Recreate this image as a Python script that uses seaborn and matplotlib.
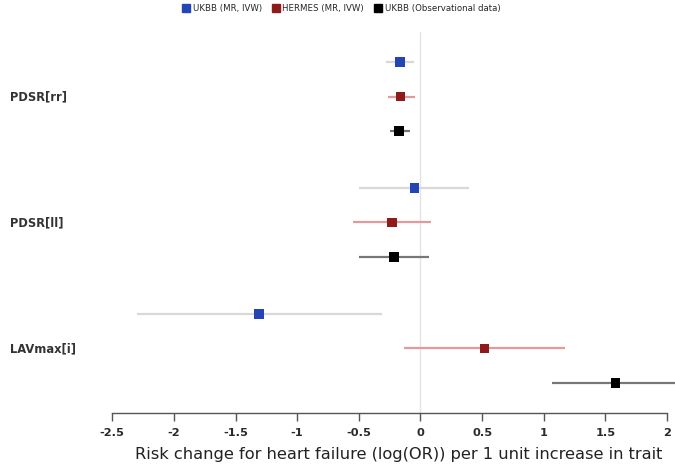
import matplotlib
matplotlib.use("Agg")
import matplotlib.pyplot as plt
import matplotlib.transforms as mtransforms
from matplotlib.lines import Line2D
import numpy as np
import pandas as pd
import seaborn as sns

# Traits and data sources, top to bottom
traits = ["PDSR[rr]", "PDSR[ll]", "LAVmax[i]"]
sources = ["UKBB (MR, IVW)", "HERMES (MR, IVW)", "UKBB (Observational data)"]

# log(OR) estimates and 95% CI bounds, one list per source (ordered by trait)
est_ukbb_mr = [-0.165, -0.05, -1.31]
lo_ukbb_mr = [-0.28, -0.50, -2.30]
hi_ukbb_mr = [-0.05, 0.39, -0.31]

est_hermes = [-0.16, -0.23, 0.52]
lo_hermes = [-0.265, -0.55, -0.13]
hi_hermes = [-0.045, 0.085, 1.17]

est_ukbb_obs = [-0.175, -0.215, 1.58]
lo_ukbb_obs = [-0.25, -0.50, 1.065]
hi_ukbb_obs = [-0.085, 0.07, 2.20]

xticks = [-2.5, -2, -1.5, -1, -0.5, 0, 0.5, 1, 1.5, 2]
xticklabels = ["-2.5", "-2", "-1.5", "-1", "-0.5", "0", "0.5", "1", "1.5", "2"]

marker_colors = ["#2446b5", "#8e1b1b", "#000000"]
ci_colors = ["#d8d8d8", "#e39a9a", "#777777"]
GROUP_STEP = 3.65

rows = []
for s, (est, lo, hi) in enumerate([(est_ukbb_mr, lo_ukbb_mr, hi_ukbb_mr),
                                    (est_hermes, lo_hermes, hi_hermes),
                                    (est_ukbb_obs, lo_ukbb_obs, hi_ukbb_obs)]):
    for g, trait in enumerate(traits):
        rows.append(dict(trait=trait, source=sources[s], est=est[g], lo=lo[g],
                         hi=hi[g], y=g * GROUP_STEP + s))
df = pd.DataFrame(rows)

sns.set_style("white")
plt.rcParams["font.family"] = ["DejaVu Sans"]

fig = plt.figure(figsize=(6.75, 4.65), dpi=100)
ax = fig.add_axes([0.0, 1 - 413 / 465, 1.0, (413 - 32) / 465])

ax.axvline(0, color="#e4e4e4", lw=1.0, zorder=0)

for s, src in enumerate(sources):
    sub = df[df.source == src]
    ax.hlines(sub.y, sub.lo, sub.hi, color=ci_colors[s], lw=1.6, zorder=1)

sns.scatterplot(data=df, x="est", y="y", hue="source", hue_order=sources,
                palette=marker_colors, marker="s", s=46, edgecolor="none",
                legend=False, ax=ax, zorder=3)

ax.set_xlim(-3.41, 2.064)
ax.set_ylim(10.17, -0.87)
ax.set_yticks([])
ax.set_ylabel("")
ax.set_xticks(xticks)
ax.set_xticklabels(xticklabels, fontsize=8.2, color="#2a2a2a", fontweight="bold")
ax.set_xlabel("Risk change for heart failure (log(OR)) per 1 unit increase in trait",
              fontsize=11.7, color="#222222")
ax.xaxis.set_label_coords(399 / 675, -41 / 381)
ax.xaxis.label.set_va("center")
for side in ["top", "right", "left"]:
    ax.spines[side].set_visible(False)
ax.spines["bottom"].set_bounds(-2.5, 2)
ax.spines["bottom"].set_color("#555555")
ax.spines["bottom"].set_linewidth(1.0)
ax.tick_params(axis="x", direction="out", length=6, width=1.0, color="#555555",
               pad=5, bottom=True)

trans = mtransforms.blended_transform_factory(fig.transFigure, ax.transData)
for g, trait in enumerate(traits):
    ax.text(10 / 675, g * GROUP_STEP + 1, trait, transform=trans, ha="left",
            va="center", fontsize=8.3, color="#333333", fontweight="bold")

handles = [Line2D([], [], marker="s", ls="none", color=c, markersize=6)
           for c in marker_colors]
fig.legend(handles, sources, loc="upper center", bbox_to_anchor=(0.505, 1.008),
           ncol=3, frameon=False, fontsize=6.2, handletextpad=0.3,
           columnspacing=1.1, handlelength=1.0)

fig.savefig("out.png", dpi=100)
